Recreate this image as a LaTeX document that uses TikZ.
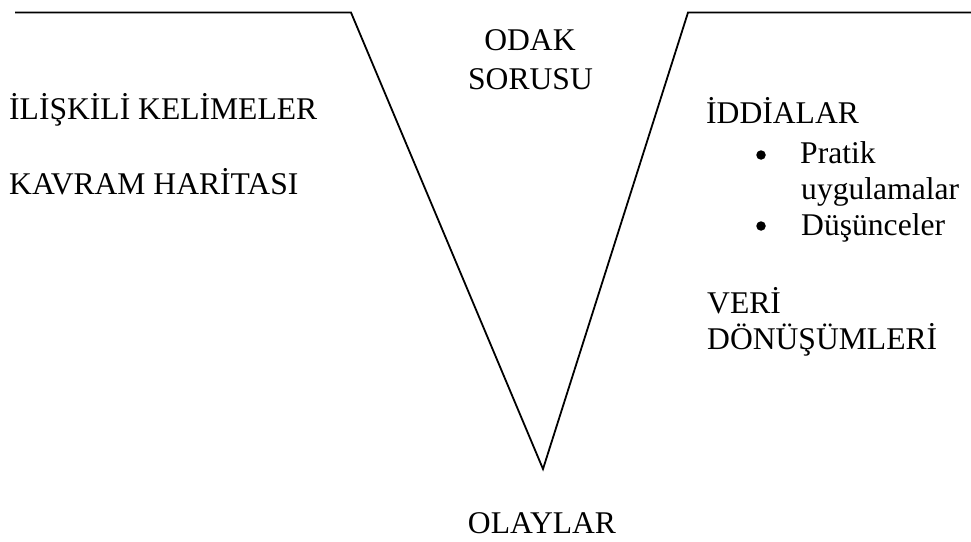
\documentclass[tikz,border=0pt]{standalone}
\usepackage{fontspec}
\setmainfont{Liberation Serif}
\newfontfamily\veefont{Liberation Serif}
\usetikzlibrary{positioning}
\tikzset{
  vline/.style={draw=black, line width=1.8pt, line join=miter},
  lbl/.style={inner sep=0pt, anchor=base west, font=\veefont\fontsize{31.6}{37}\selectfont},
  midlbl/.style={lbl, anchor=base},
  bul/.style={circle, fill=black, inner sep=0pt, minimum size=9.5pt},
}

\begin{document}
\begin{tikzpicture}[x=1pt, y=-1pt]
\useasboundingbox (0,0) rectangle (971,541);

%% the vee and its two shoulders
\coordinate (v_left) at (15,12.5);
\coordinate (v_topl) at (351,12.5);
\coordinate (v_bot) at (543,469);
\coordinate (v_topr) at (688,12.5);
\coordinate (v_right) at (971,12.5);
\draw[vline] (v_left) -- (v_topl) -- (v_bot) -- (v_topr) -- (v_right);

%% centre column
\node[midlbl] (c_odak) at (530,50.7) {ODAK};
\node[midlbl] (c_soru) at (530.5,89) {SORUSU};
\node[midlbl] (c_olay) at (542,533) {OLAYLAR};

%% left side
\node[lbl] (l_kel) at (9,119.5) {İLİŞKİLİ KELİMELER};
\node[lbl] (l_har) at (9,194.5) {KAVRAM HARİTASI};

%% right side
\node[lbl] (r_idd) at (706,123) {İDDİALAR};
\node[lbl] (r_pra) at (800,163) {Pratik};
\node[lbl] (r_uyg) at (801,199) {uygulamalar};
\node[lbl] (r_dus) at (801,235) {Düşünceler};
\node[bul] (r_b1) at (761,155) {};
\node[bul] (r_b2) at (761,226) {};
\node[lbl] (r_veri) at (707,313) {VERİ};
\node[lbl] (r_don) at (707,349) {DÖNÜŞÜMLERİ};

\end{tikzpicture}
\end{document}
